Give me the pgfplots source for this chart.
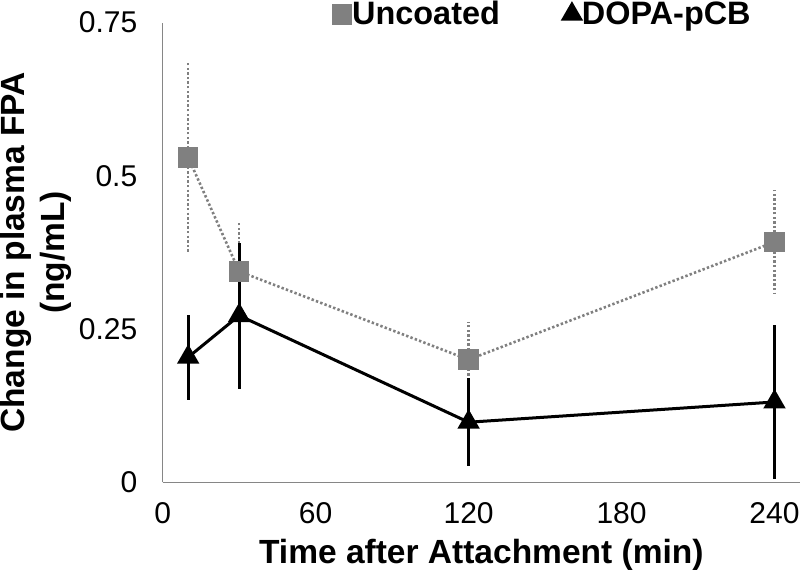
\documentclass[border=0pt]{standalone}
\usepackage{pgfplots}
\pgfplotsset{compat=1.18}
\usepackage{fontspec}
\setmainfont{Liberation Sans}

\definecolor{axisgray}{HTML}{868686}
\definecolor{ungray}{HTML}{808080}

\begin{document}
\begin{tikzpicture}
\begin{axis}[
    scale only axis, width=318.45bp, height=229.75bp,
    xmin=0, xmax=250, ymin=0, ymax=0.75,
    axis x line=bottom, axis y line=left,
    axis line style={-, draw=axisgray, line width=0.6bp},
    xtick={0,60,120,180,240}, ytick={0,0.25,0.5,0.75},
    major tick length=0pt,
    /pgf/number format/assume math mode=true,
    ticklabel style={font=\fontsize{15bp}{18bp}\selectfont},
    xticklabel style={inner sep=0pt, anchor=north, yshift=-10bp},
    yticklabel style={inner sep=0pt, anchor=east, xshift=-12.5bp},
    xlabel={Time after Attachment (min)},
    xlabel style={font=\fontsize{16.75bp}{20bp}\selectfont\bfseries,
        at={(axis description cs:0.5,0)}, anchor=base, yshift=-40.5bp, inner sep=0pt},
    ylabel={Change in plasma FPA\\(ng/mL)},
    ylabel style={font=\fontsize{16.75bp}{20bp}\selectfont\bfseries, align=center,
        at={(axis description cs:-0.2553,0.5)}, anchor=north, rotate=0, inner sep=0pt},
    clip=false,
    legend columns=2,
    legend style={draw=none, fill=none, at={(0.2675,1.049)}, anchor=north west,
        inner sep=0pt, outer sep=0pt,
        font=\fontsize{16.2bp}{19bp}\selectfont\bfseries,
        nodes={inner sep=0.5bp},
        /tikz/every even column/.append style={column sep=31bp}},
    legend image code/.code={
        \pgfpathrectangle{\pgfpoint{0pt}{-4.5bp}}{\pgfpoint{9bp}{9bp}}
        \pgfusepath{use as bounding box}
        \draw[#1, mark options={solid}] plot coordinates {(4.5bp,0)};
    },
]
% Uncoated: x, mean, error
\addplot[ungray, line width=1.3bp, dash pattern=on 1.2bp off 1.1bp,
    mark=square*, mark size=4.5bp, mark options={solid, fill=ungray, draw=ungray},
    error bars/.cd, y dir=both, y explicit, error mark=none,
    error bar style={ungray, line width=1.3bp, dash pattern=on 1.2bp off 1.1bp}]
    table[x=t, y=m, y error=e] {
t   m      e
10  0.530  0.157
30  0.344  0.079
120 0.200  0.062
240 0.392  0.085
};
\addlegendentry{Uncoated}
% DOPA-pCB
\addplot[black, line width=1.5bp,
    mark=triangle*, mark size=5bp, mark options={solid, fill=black},
    error bars/.cd, y dir=both, y explicit, error mark=none,
    error bar style={black, line width=1.5bp, solid}]
    table[x=t, y=m, y error=e] {
t   m      e
10  0.204  0.069
30  0.272  0.119
120 0.098  0.072
240 0.131  0.125
};
\addlegendentry{DOPA-pCB}
\end{axis}
\pgfresetboundingbox
\path ([xshift=-81.3bp,yshift=-44bp]current axis.south west) rectangle ([yshift=11.25bp]current axis.north east);
\end{tikzpicture}
\end{document}
